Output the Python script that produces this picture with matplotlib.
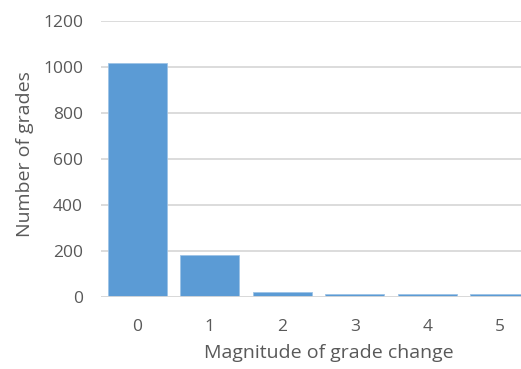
import matplotlib
matplotlib.use("Agg")
import matplotlib.pyplot as plt

categories = ["0", "1", "2", "3", "4", "5"]
counts = [1017, 184, 22, 12, 12, 12]
yticks = [0, 200, 400, 600, 800, 1000, 1200]

plt.rcParams['font.family'] = ['Open Sans', 'DejaVu Sans']
fig = plt.figure(figsize=(5.21, 3.69), dpi=100)
ax = fig.add_axes([101/521, 1 - 297/369, 435/521, (297 - 21)/369])
ax.set_xlim(-0.5, 5.5)
ax.set_ylim(0, 1200)
ax.set_yticks(yticks)
ax.yaxis.grid(True, color='#D9D9D9', linewidth=1.3, zorder=0)
ax.set_axisbelow(True)
x = list(range(len(categories)))
ax.bar(x, counts, width=0.82, color='#5B9BD5', edgecolor='#9DC3E6', linewidth=0.6, zorder=2)
ax.axhline(0, color='#D9D9D9', linewidth=1.3, zorder=3)
ax.set_xticks(x)
ax.set_xticklabels(categories)
for s in ax.spines.values():
    s.set_visible(False)
ax.tick_params(axis='x', length=0, pad=16, labelsize=12.5, labelcolor='#595959')
ax.tick_params(axis='y', length=0, width=1.3, color='#D9D9D9', pad=13, labelsize=12.5, labelcolor='#595959')
ax.set_ylabel("Number of grades", fontsize=14, color='#595959')
ax.set_xlabel("Magnitude of grade change", fontsize=14, color='#595959')
ax.xaxis.set_label_coords((329 - 101) / 435, -(353 - 297) / 276)
ax.xaxis.label.set_va('center')
ax.yaxis.set_label_coords(-(101 - 25) / 435, (297 - 154) / 276)
ax.yaxis.label.set_va('center')
fig.savefig("out.png", dpi=100)
